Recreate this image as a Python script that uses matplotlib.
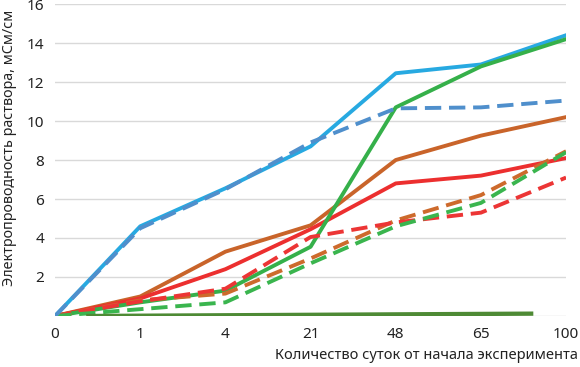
import matplotlib
matplotlib.use("Agg")
import matplotlib.pyplot as plt

plt.rcParams["font.family"] = ["Noto Sans", "DejaVu Sans"]

days = ["0", "1", "4", "21", "48", "65", "100"]

blue_solid = [0.0, 4.6, 6.55, 8.7, 12.45, 12.9, 14.4]
blue_dashed = [0.0, 4.5, 6.5, 8.9, 10.65, 10.7, 11.05]
orange_solid = [0.0, 1.0, 3.3, 4.65, 8.0, 9.25, 10.2]
red_solid = [0.0, 0.9, 2.4, 4.45, 6.8, 7.2, 8.1]
green_solid = [0.0, 0.7, 1.3, 3.55, 10.7, 12.8, 14.2]
orange_dashed = [0.0, 0.8, 1.15, 2.95, 4.9, 6.2, 8.45]
red_dashed = [0.0, 0.75, 1.4, 4.05, 4.8, 5.3, 7.1]
green_dashed = [0.0, 0.35, 0.7, 2.7, 4.6, 5.8, 8.4]
# this series sits near zero and does not span the full range
dark_green_x = [0.39, 5.59]
dark_green = [0.0, 0.12]

fig = plt.figure(figsize=(5.8, 3.67), dpi=100)
ax = fig.add_axes([0.095, 0.139, 0.881, 0.850])

x = range(len(days))
lw = 2.8
dash = (0, (4.2, 2.0))
ax.plot(x, blue_solid, color="#27A9E1", lw=lw, zorder=3)
ax.plot(x, blue_dashed, color="#4F8FCC", lw=lw, ls=dash, zorder=4)
ax.plot(x, orange_solid, color="#C9642A", lw=lw, zorder=3)
ax.plot(x, red_solid, color="#EC2F2F", lw=lw, zorder=3)
ax.plot(x, green_solid, color="#35B04A", lw=lw, zorder=3)
ax.plot(x, orange_dashed, color="#CD6A2C", lw=lw, ls=dash, zorder=3)
ax.plot(x, red_dashed, color="#EC3535", lw=lw, ls=dash, zorder=3)
ax.plot(x, green_dashed, color="#3AB54E", lw=lw, ls=dash, zorder=3)
ax.plot(dark_green_x, dark_green, color="#4E8A35", lw=lw + 0.3, zorder=3)

ax.set_xlim(0, len(days) - 1)
ax.set_ylim(0, 16)
ax.set_xticks(list(x))
ax.set_xticklabels(days)
ax.set_yticks(range(2, 17, 2))
ax.grid(axis="y", color="#D9D9D9", lw=1.0, zorder=0)
ax.axhline(0, color="#D9D9D9", lw=1.0, zorder=1)
for side in ["top", "right", "left", "bottom"]:
    ax.spines[side].set_visible(False)
ax.tick_params(length=0, labelsize=11, colors="#222222", pad=8)

fig.text(0.017, 0.598, "Электропроводность раствора, мСм/см", rotation=90,
         ha="center", va="center", fontsize=10.3, color="#222222")
fig.text(0.997, 0.03, "Количество суток от начала эксперимента",
         ha="right", va="center", fontsize=10.5, color="#222222")

fig.savefig("out.png", dpi=100)
